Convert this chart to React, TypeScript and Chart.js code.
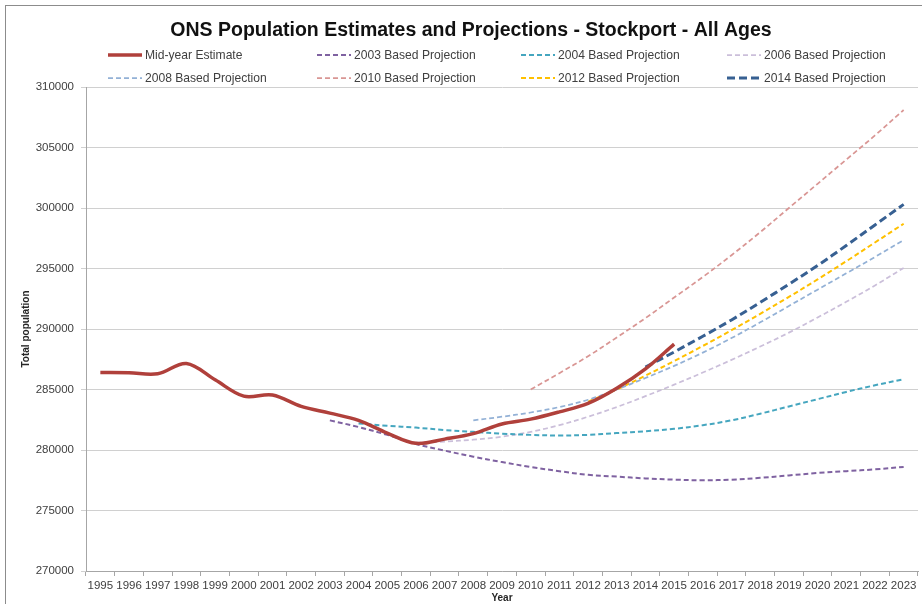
import { useEffect, useRef } from 'react';
import { Chart, registerables } from 'chart.js';

Chart.register(...registerables);

const TITLE = 'ONS Population Estimates and Projections - Stockport - All Ages';
const Y_TITLE = 'Total population';
const X_TITLE = 'Year';

const years = [
  '1995', '1996', '1997', '1998', '1999', '2000', '2001', '2002', '2003', '2004',
  '2005', '2006', '2007', '2008', '2009', '2010', '2011', '2012', '2013', '2014',
  '2015', '2016', '2017', '2018', '2019', '2020', '2021', '2022', '2023',
];

const midYearEstimate = [
  286400, 286380, 286300, 287150, 285800, 284450, 284550, 283600, 283050, 282450,
  281400, 280550, 280900, 281350, 282150, 282550, 283150, 283850, 285100, 286700,
  288750,
];

const proj2003 = [
  null, null, null, null, null, null, null, null,
  282450, 281900, 281250, 280500, 279950, 279450, 279000, 278600, 278250, 277950,
  277800, 277650, 277550, 277500, 277550, 277700, 277900, 278100, 278250, 278400, 278600,
];

const proj2004 = [
  null, null, null, null, null, null, null, null, null,
  282200, 282000, 281850, 281650, 281500, 281350, 281250, 281200, 281250, 281400,
  281550, 281750, 282050, 282450, 283000, 283600, 284200, 284800, 285350, 285850,
];

const proj2006 = [
  null, null, null, null, null, null, null, null, null, null, null,
  280600, 280700, 280850, 281100, 281500, 282050, 282750, 283550, 284450,
  285400, 286400, 287450, 288550, 289700, 290950, 292250, 293600, 295050,
];

const proj2008 = [
  null, null, null, null, null, null, null, null, null, null, null, null, null,
  282450, 282750, 283100, 283550, 284150, 285000, 285950, 286950, 288050,
  289250, 290550, 291900, 293250, 294600, 295950, 297350,
];

const proj2010 = [
  null, null, null, null, null, null, null, null, null, null, null, null, null, null, null,
  285000, 286350, 287750, 289300, 290900, 292600, 294300, 296100, 298000,
  300000, 302000, 304000, 306000, 308100,
];

const proj2012 = [
  null, null, null, null, null, null, null, null, null, null, null, null, null, null, null, null, null,
  284000, 285000, 286150, 287350, 288600, 289900, 291250, 292650, 294100, 295600, 297150, 298700,
];

const proj2014 = [
  null, null, null, null, null, null, null, null, null, null, null, null, null, null, null, null, null, null, null,
  286850, 288100, 289400, 290750, 292200, 293700, 295250, 296900, 298600, 300300,
];

const seriesLabels = [
  'Mid-year Estimate',
  '2003 Based Projection',
  '2004 Based Projection',
  '2006 Based Projection',
  '2008 Based Projection',
  '2010 Based Projection',
  '2012 Based Projection',
  '2014 Based Projection',
];

const seriesData = [
  midYearEstimate, proj2003, proj2004, proj2006, proj2008, proj2010, proj2012, proj2014,
];

const seriesStyles = [
  { color: '#B0403B', width: 3.5, dash: [] as number[] },
  { color: '#7F62A1', width: 2, dash: [5, 3] },
  { color: '#45A6BF', width: 2, dash: [5, 3] },
  { color: '#CBBFDA', width: 1.75, dash: [5, 3] },
  { color: '#93B1D6', width: 1.75, dash: [5, 3] },
  { color: '#D99694', width: 1.75, dash: [5, 3] },
  { color: '#FFC000', width: 2, dash: [5, 3] },
  { color: '#376092', width: 3, dash: [8, 4] },
];

const FONT = '"Liberation Sans", Arial, sans-serif';
const LEGEND_COLS = [108, 317, 521, 727];
const LEGEND_ROWS = [55, 78];

const headerPlugin = {
  id: 'headerLegend',
  afterDraw(chart: any) {
    const ctx = chart.ctx as CanvasRenderingContext2D;
    ctx.save();
    ctx.font = `bold 19.5px ${FONT}`;
    ctx.fillStyle = '#111111';
    ctx.textAlign = 'center';
    ctx.textBaseline = 'middle';
    ctx.fillText(TITLE, 471, 31);

    chart.data.datasets.forEach((ds: any, i: number) => {
      const x0 = LEGEND_COLS[i % 4];
      const y = LEGEND_ROWS[Math.floor(i / 4)];
      ctx.strokeStyle = ds.borderColor;
      ctx.lineWidth = ds.borderWidth;
      ctx.setLineDash(ds.borderDash || []);
      ctx.lineCap = 'butt';
      ctx.beginPath();
      ctx.moveTo(x0, y);
      ctx.lineTo(x0 + 34, y);
      ctx.stroke();
      ctx.setLineDash([]);
      ctx.fillStyle = '#404040';
      ctx.font = `12.1px ${FONT}`;
      ctx.textAlign = 'left';
      ctx.textBaseline = 'middle';
      ctx.fillText(ds.label, x0 + 37, y + 0.5);
    });
    ctx.restore();
  },
};

export default function App() {
  const canvasRef = useRef<HTMLCanvasElement | null>(null);

  useEffect(() => {
    if (!canvasRef.current) return;
    const chart = new Chart(canvasRef.current, {
      type: 'line',
      data: {
        labels: years,
        datasets: seriesData.map((d, i) => ({
          label: seriesLabels[i],
          data: d,
          borderColor: seriesStyles[i].color,
          backgroundColor: seriesStyles[i].color,
          borderWidth: seriesStyles[i].width,
          borderDash: seriesStyles[i].dash,
          pointRadius: 0,
          pointHoverRadius: 0,
          tension: 0.35,
          fill: false,
          spanGaps: false,
        })),
      },
      options: {
        animation: false,
        responsive: false,
        maintainAspectRatio: false,
        layout: { padding: { left: 16, right: 4, top: 87, bottom: 0 } },
        plugins: {
          legend: { display: false },
          title: { display: false },
          tooltip: { enabled: false },
        },
        scales: {
          x: {
            type: 'category',
            offset: true,
            grid: {
              offset: true,
              drawOnChartArea: false,
              drawTicks: true,
              tickLength: 5,
              color: '#A6A6A6',
            },
            border: { display: true, color: '#A6A6A6', width: 1 },
            ticks: {
              autoSkip: false,
              maxRotation: 0,
              minRotation: 0,
              padding: 3,
              color: '#404040',
              font: { family: FONT, size: 11.5 },
            },
            title: {
              display: true,
              text: X_TITLE,
              color: '#262626',
              padding: { top: 0, bottom: 0 },
              font: { family: FONT, size: 10, weight: 'bold' },
            },
            afterFit: (s: any) => { s.height = 33; },
          },
          y: {
            min: 270000,
            max: 310000,
            grid: {
              color: '#D0D0D0',
              tickLength: 5,
              drawTicks: true,
            },
            border: { display: true, color: '#A6A6A6', width: 1 },
            ticks: {
              stepSize: 5000,
              padding: 7,
              color: '#404040',
              font: { family: FONT, size: 11.5 },
              callback: (v: any) => String(v),
            },
            title: {
              display: true,
              text: Y_TITLE,
              color: '#262626',
              padding: { top: 4, bottom: 4 },
              font: { family: FONT, size: 10, weight: 'bold' },
            },
            afterFit: (s: any) => { s.width = 70; },
          },
        },
      },
      plugins: [headerPlugin],
    });
    return () => chart.destroy();
  }, []);

  return (
    <div style={{ position: 'fixed', left: 0, top: 0, width: 922, height: 604, overflow: 'hidden', background: '#ffffff' }}>
      <div style={{ position: 'absolute', left: 5, top: 5, width: 940, height: 640, border: '1px solid #8C8C8C', boxSizing: 'border-box' }} />
      <canvas ref={canvasRef} width={922} height={604} style={{ position: 'absolute', left: 0, top: 0, display: 'block' }} />
    </div>
  );
}
